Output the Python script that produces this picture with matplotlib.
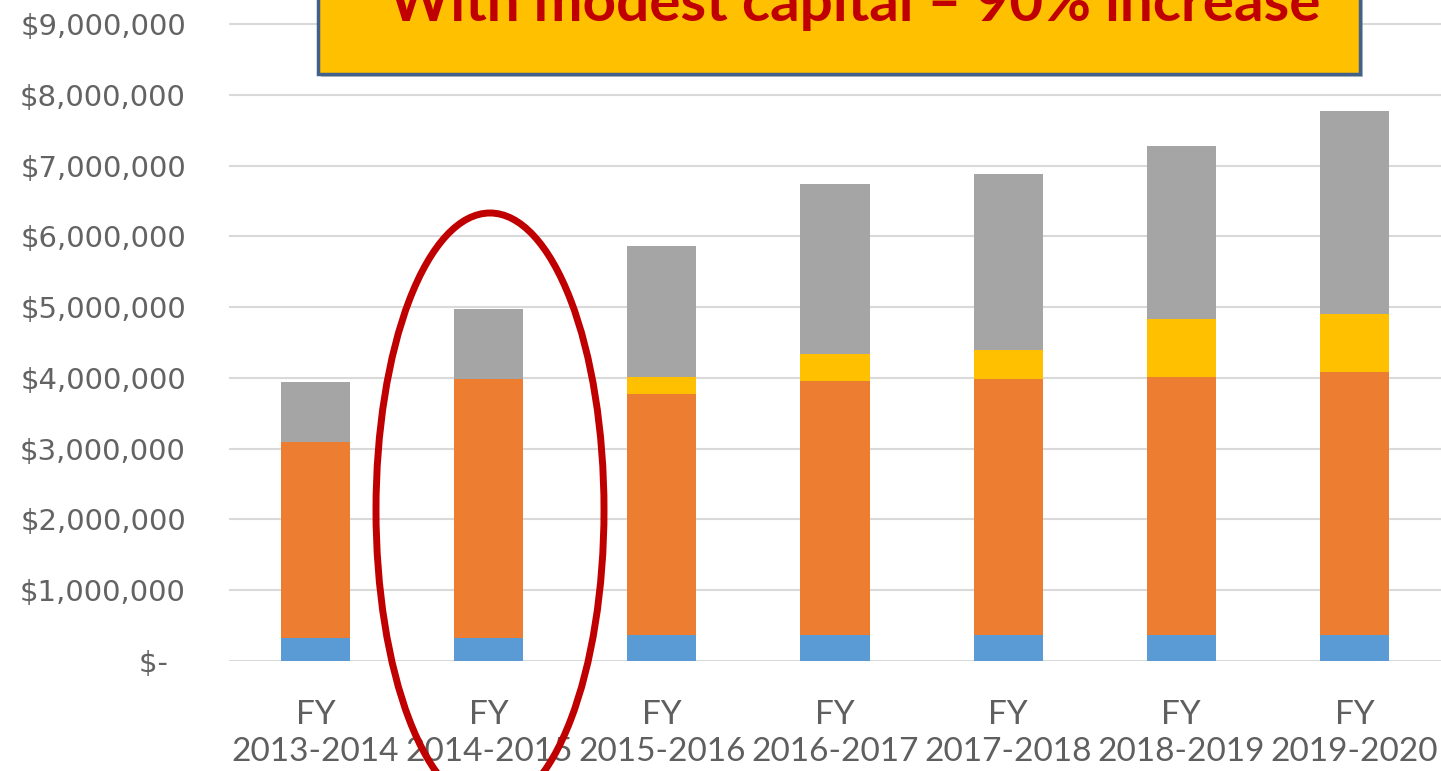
import matplotlib
matplotlib.use("Agg")
import matplotlib.pyplot as plt
import numpy as np
from matplotlib.patches import Rectangle, Ellipse
from matplotlib.ticker import FuncFormatter

# fiscal years and revenue components (dollars)
years = ["2013-2014", "2014-2015", "2015-2016", "2016-2017", "2017-2018", "2018-2019", "2019-2020"]
blue_vals = [320000, 320000, 370000, 370000, 370000, 370000, 370000]
orange_vals = [2770000, 3660000, 3400000, 3580000, 3610000, 3640000, 3710000]
yellow_vals = [0, 0, 240000, 390000, 410000, 820000, 820000]
gray_vals = [850000, 990000, 1850000, 2400000, 2490000, 2440000, 2870000]
y_ticks = [0, 1e6, 2e6, 3e6, 4e6, 5e6, 6e6, 7e6, 8e6, 9e6]
headline = "With modest capital \u2013 90% increase"

W, H = 1441, 771
fig = plt.figure(figsize=(W / 100, H / 100), dpi=100)
ax = fig.add_axes([229 / W, 110 / H, 1 - 229 / W, 1 - 110 / H])

x = np.arange(len(years))
bw = 0.4
blue = np.array(blue_vals)
orange = np.array(orange_vals)
yellow = np.array(yellow_vals)
gray = np.array(gray_vals)

ax.bar(x, blue, bw, color="#5B9BD5", zorder=3)
ax.bar(x, orange, bw, bottom=blue, color="#ED7D31", zorder=3)
ax.bar(x, yellow, bw, bottom=blue + orange, color="#FFC000", zorder=3)
ax.bar(x, gray, bw, bottom=blue + orange + yellow, color="#A5A5A5", zorder=3)

ax.set_xlim(-0.5, 6.5)
ax.set_ylim(0, 9.34e6)
ax.set_yticks(y_ticks)
ax.yaxis.set_major_formatter(FuncFormatter(lambda v, p: "$-  " if v == 0 else "${:,.0f}".format(v)))
ax.grid(axis="y", color="#D9D9D9", linewidth=1.5, zorder=0)
ax.set_xticks(x, ["FY\n" + y for y in years])
for s in ax.spines.values():
    s.set_visible(False)
ax.tick_params(axis="both", length=0)
ax.tick_params(axis="y", pad=31, labelsize=21, labelcolor="#636363")
ax.tick_params(axis="x", pad=28, labelcolor="#5F5F5F")
for lab in ax.get_xticklabels():
    lab.set_fontfamily("Lato")
    lab.set_fontsize(24)
    lab.set_linespacing(1.3)

# headline box across the top
fig.add_artist(Rectangle((321 / W, 1 - 77 / H), 1042 / W, 100 / H, transform=fig.transFigure,
                         facecolor="#8C8C8C", edgecolor="none", alpha=0.5, zorder=9))
fig.add_artist(Rectangle((318 / W, 1 - 74 / H), 1042 / W, 100 / H, transform=fig.transFigure,
                         facecolor="#FFC000", edgecolor="#41618A", linewidth=2.5, zorder=10))
fig.text(855 / W, 1 - 21 / H, headline, ha="center", va="baseline", fontsize=42,
         fontweight="bold", family="Lato", color="#C00000", zorder=11)

# red ellipse around FY 2014-2015
fig.add_artist(Ellipse((490 / W, 1 - 510 / H), 228 / W, 594 / H, transform=fig.transFigure,
                       facecolor="none", edgecolor="#C00000", linewidth=5, zorder=12))

fig.savefig("out.png", dpi=100)
